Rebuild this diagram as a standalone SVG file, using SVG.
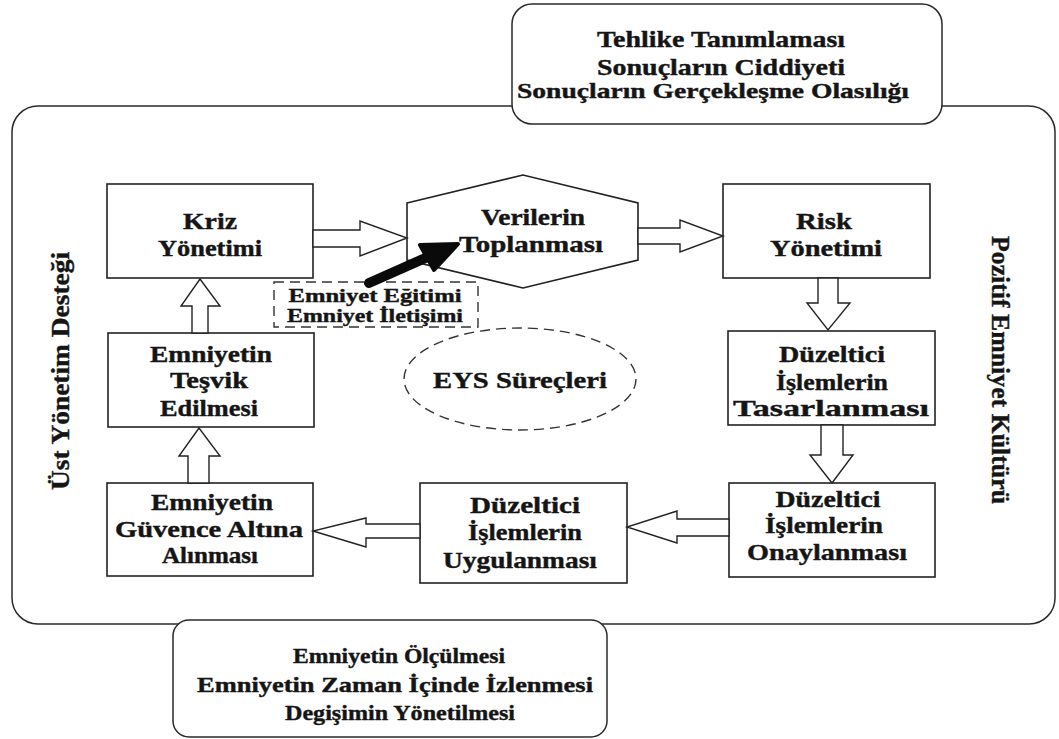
<svg xmlns="http://www.w3.org/2000/svg" width="1059" height="739" viewBox="0 0 1059 739">
  <style>
    .frame { fill: none; stroke: #2a2a2a; stroke-width: 1.5; }
    .panel { fill: #ffffff; stroke: #2a2a2a; stroke-width: 1.5; }
    .box { fill: #ffffff; stroke: #222222; stroke-width: 1.6; }
    .dash { fill: none; stroke: #333333; stroke-width: 1.4; stroke-dasharray: 10 6; }
    .arrow { fill: #ffffff; stroke: #222222; stroke-width: 1.4; stroke-linejoin: miter; }
    text { font-family: "Liberation Serif", "Times New Roman", Times, serif; font-weight: bold; fill: #151515; stroke: #151515; stroke-width: 0.4; text-anchor: middle; }
    .t24 { font-size: 24px; }
    .t22 { font-size: 22px; }
    .t21 { font-size: 21px; }
    .t19 { font-size: 19px; }
    .side { font-size: 26px; }
  </style>

  <!-- outer frame of the SMS processes -->
  <g id="frame">
    <rect class="frame" x="12" y="106" width="1043" height="518" rx="26" ry="26"/>
  </g>

  <!-- hazard / risk inputs panel -->
  <g id="panel-top">
    <rect class="panel" x="512" y="4" width="430" height="120" rx="20" ry="20"/>
    <text class="t24" x="721" y="47" textLength="248" lengthAdjust="spacingAndGlyphs">Tehlike Tanımlaması</text>
    <text class="t24" x="721" y="75" textLength="248" lengthAdjust="spacingAndGlyphs">Sonuçların Ciddiyeti</text>
    <text class="t21" x="713" y="98" textLength="392" lengthAdjust="spacingAndGlyphs">Sonuçların Gerçekleşme Olasılığı</text>
  </g>

  <!-- measurement panel -->
  <g id="panel-bottom">
    <rect class="panel" x="173" y="620" width="434" height="117" rx="16" ry="16"/>
    <text class="t22" x="399" y="663" textLength="212" lengthAdjust="spacingAndGlyphs">Emniyetin Ölçülmesi</text>
    <text class="t22" x="395" y="692" textLength="396" lengthAdjust="spacingAndGlyphs">Emniyetin Zaman İçinde İzlenmesi</text>
    <text class="t22" x="400" y="720" textLength="230" lengthAdjust="spacingAndGlyphs">Degişimin Yönetilmesi</text>
  </g>

  <!-- side labels -->
  <g id="label-left">
    <text class="side" transform="translate(69,371) rotate(-90)" textLength="238" lengthAdjust="spacingAndGlyphs">Üst Yönetim Desteği</text>
  </g>
  <g id="label-right">
    <text class="side" transform="translate(992,370) rotate(90)" textLength="268" lengthAdjust="spacingAndGlyphs">Pozitif Emniyet Kültürü</text>
  </g>

  <g id="kriz">
    <rect class="box" x="107" y="184" width="206" height="94"/>
    <text class="t24" x="210" y="229" textLength="54" lengthAdjust="spacingAndGlyphs">Kriz</text>
    <text class="t24" x="210" y="256" textLength="104" lengthAdjust="spacingAndGlyphs">Yönetimi</text>
  </g>

  <g id="veri">
    <polygon class="box" points="407,203 523,175 638,203 638,260 523,288 407,260"/>
    <text class="t24" x="533" y="225" textLength="104" lengthAdjust="spacingAndGlyphs">Verilerin</text>
    <text class="t24" x="531" y="252" textLength="144" lengthAdjust="spacingAndGlyphs">Toplanması</text>
  </g>

  <g id="egitim">
    <rect class="dash" x="274" y="282" width="204" height="45"/>
    <text class="t19" x="375" y="302" textLength="173" lengthAdjust="spacingAndGlyphs">Emniyet Eğitimi</text>
    <text class="t19" x="375" y="322" textLength="176" lengthAdjust="spacingAndGlyphs">Emniyet İletişimi</text>
  </g>

  <g id="risk">
    <rect class="box" x="723" y="184" width="207" height="94"/>
    <text class="t24" x="824" y="229" textLength="56" lengthAdjust="spacingAndGlyphs">Risk</text>
    <text class="t24" x="826" y="256" textLength="112" lengthAdjust="spacingAndGlyphs">Yönetimi</text>
  </g>

  <g id="tasarlanma">
    <rect class="box" x="728" y="331" width="207" height="94"/>
    <text class="t24" x="832" y="362" textLength="106" lengthAdjust="spacingAndGlyphs">Düzeltici</text>
    <text class="t24" x="832" y="390" textLength="112" lengthAdjust="spacingAndGlyphs">İşlemlerin</text>
    <text class="t24" x="831" y="416" textLength="196" lengthAdjust="spacingAndGlyphs">Tasarlanması</text>
  </g>

  <g id="onay">
    <rect class="box" x="729" y="483" width="206" height="94"/>
    <text class="t24" x="828" y="507" textLength="105" lengthAdjust="spacingAndGlyphs">Düzeltici</text>
    <text class="t24" x="824" y="533" textLength="118" lengthAdjust="spacingAndGlyphs">İşlemlerin</text>
    <text class="t24" x="827" y="560" textLength="160" lengthAdjust="spacingAndGlyphs">Onaylanması</text>
  </g>

  <g id="uygulanma">
    <rect class="box" x="420" y="483" width="207" height="100"/>
    <text class="t24" x="525" y="513" textLength="110" lengthAdjust="spacingAndGlyphs">Düzeltici</text>
    <text class="t24" x="525" y="540" textLength="114" lengthAdjust="spacingAndGlyphs">İşlemlerin</text>
    <text class="t24" x="520" y="568" textLength="154" lengthAdjust="spacingAndGlyphs">Uygulanması</text>
  </g>

  <g id="guvence">
    <rect class="box" x="107" y="483" width="206" height="93"/>
    <text class="t24" x="212" y="510" textLength="122" lengthAdjust="spacingAndGlyphs">Emniyetin</text>
    <text class="t24" x="209" y="537" textLength="188" lengthAdjust="spacingAndGlyphs">Güvence Altına</text>
    <text class="t24" x="210" y="563" textLength="96" lengthAdjust="spacingAndGlyphs">Alınması</text>
  </g>

  <g id="tesvik">
    <rect class="box" x="108" y="333" width="206" height="94"/>
    <text class="t24" x="211" y="362" textLength="122" lengthAdjust="spacingAndGlyphs">Emniyetin</text>
    <text class="t24" x="209" y="388" textLength="78" lengthAdjust="spacingAndGlyphs">Teşvik</text>
    <text class="t24" x="209" y="416" textLength="98" lengthAdjust="spacingAndGlyphs">Edilmesi</text>
  </g>

  <g id="eys">
    <ellipse class="dash" cx="520" cy="379" rx="116" ry="51"/>
    <text class="t24" x="520" y="388" textLength="174" lengthAdjust="spacingAndGlyphs">EYS Süreçleri</text>
  </g>

  <!-- connectors: hollow block arrows between process steps -->
  <g id="connectors">
    <polygon class="arrow" points="313,230 360,230 360,221 407,238 360,256 360,247 313,247"/>
    <polygon class="arrow" points="638,228 680,228 680,220 723,236 680,252 680,244 638,244"/>
    <polygon class="arrow" points="818,278 838,278 838,303 850,303 828,330 807,303 818,303"/>
    <polygon class="arrow" points="821,425 843,425 843,455 853,455 832,483 810,455 821,455"/>
    <polygon class="arrow" points="729,519 677,519 677,511 627,527 677,543 677,536 729,536"/>
    <polygon class="arrow" points="420,524 366,524 366,518 313,531 366,547 366,538 420,538"/>
    <polygon class="arrow" points="188,483 188,456 179,456 199,428 220,456 209,456 209,483"/>
    <polygon class="arrow" points="192,333 192,306 181,306 200,279 220,306 208,306 208,333"/>
    <!-- training / communication feed into data collection -->
    <line x1="369" y1="283" x2="430" y2="256" stroke="#0a0a0a" stroke-width="10" stroke-linecap="round"/>
    <polygon points="458,244 434,270 420,245" fill="#0a0a0a" stroke="#0a0a0a" stroke-width="4" stroke-linejoin="round"/>
  </g>
</svg>
